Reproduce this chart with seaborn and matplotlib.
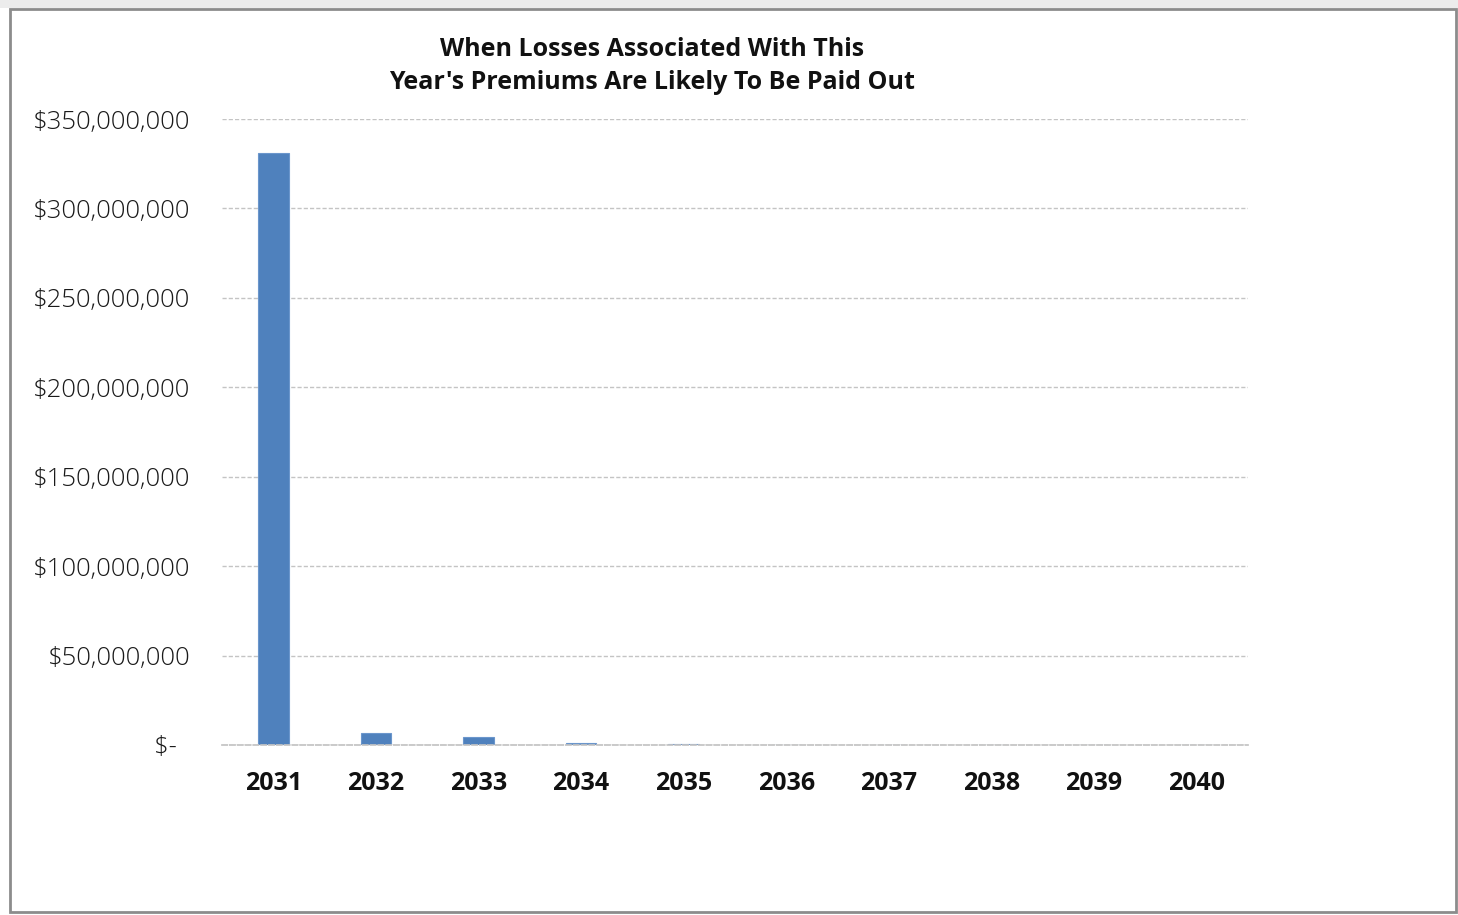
import matplotlib
matplotlib.use("Agg")
import matplotlib.pyplot as plt
import seaborn as sns
import pandas as pd
from matplotlib.patches import Rectangle
from matplotlib.ticker import FuncFormatter

years = ["2031", "2032", "2033", "2034", "2035", "2036", "2037", "2038", "2039", "2040"]
losses = [330_800_000, 6_500_000, 4_400_000, 1_200_000, 300_000, 150_000, 80_000, 40_000, 20_000, 10_000]
y_ticks = [0, 50_000_000, 100_000_000, 150_000_000, 200_000_000, 250_000_000, 300_000_000, 350_000_000]
title_text = "When Losses Associated With This\nYear's Premiums Are Likely To Be Paid Out"

df = pd.DataFrame({"year": years, "loss": losses})

sns.set_theme(style="white")
plt.rcParams["font.family"] = ["Open Sans", "DejaVu Sans"]

W, H = 1458, 915
fig = plt.figure(figsize=(W / 100, H / 100), dpi=100, facecolor="white")

# outer window band and chart frame
fig.patches.append(Rectangle((0, 1 - 8 / H), 1, 8 / H, transform=fig.transFigure,
                             facecolor="#ececec", edgecolor="none", zorder=0))
fig.patches.append(Rectangle((10 / W, 3 / H), (1446 / W), (H - 12) / H, transform=fig.transFigure,
                             facecolor="none", edgecolor="#8c8c8c", linewidth=2.0, zorder=1))

ax = fig.add_axes([222 / W, 1 - 745 / H, (1248 - 222) / W, (745 - 119) / H])
sns.barplot(data=df, x="year", y="loss", color="#4f81bd", width=0.3,
            saturation=1, ax=ax, edgecolor="#6b96cc", linewidth=0.8)

ax.set_ylim(0, 350_000_000)
ax.set_xlim(-0.5, len(years) - 0.5)
ax.set_yticks(y_ticks)


def money(v, pos):
    if v == 0:
        return "$-  "
    return f"${int(v):,}"


ax.yaxis.set_major_formatter(FuncFormatter(money))
ax.yaxis.grid(True, color="#c4c4c4", linestyle=(0, (3, 1.5)), linewidth=1.0)
ax.set_axisbelow(True)
for side in ["top", "right", "left"]:
    ax.spines[side].set_visible(False)
ax.spines["bottom"].set_color("#c4c4c4")
ax.spines["bottom"].set_linestyle((0, (3, 1.5)))
ax.set_xlabel("")
ax.set_ylabel("")
ax.tick_params(axis="y", length=0, pad=23, labelsize=18.5, labelcolor="#1a1a1a")
ax.tick_params(axis="x", length=0, pad=19, labelsize=18, labelcolor="#111111")
for lbl in ax.get_yticklabels():
    lbl.set_fontweight("light")
for lbl in ax.get_xticklabels():
    lbl.set_fontweight("bold")

fig.text(652 / W, 1 - 66 / H, title_text, ha="center", va="center",
         fontsize=18, fontweight="bold", color="#111111", linespacing=1.45)

fig.savefig("out.png", dpi=100, facecolor=fig.get_facecolor())
